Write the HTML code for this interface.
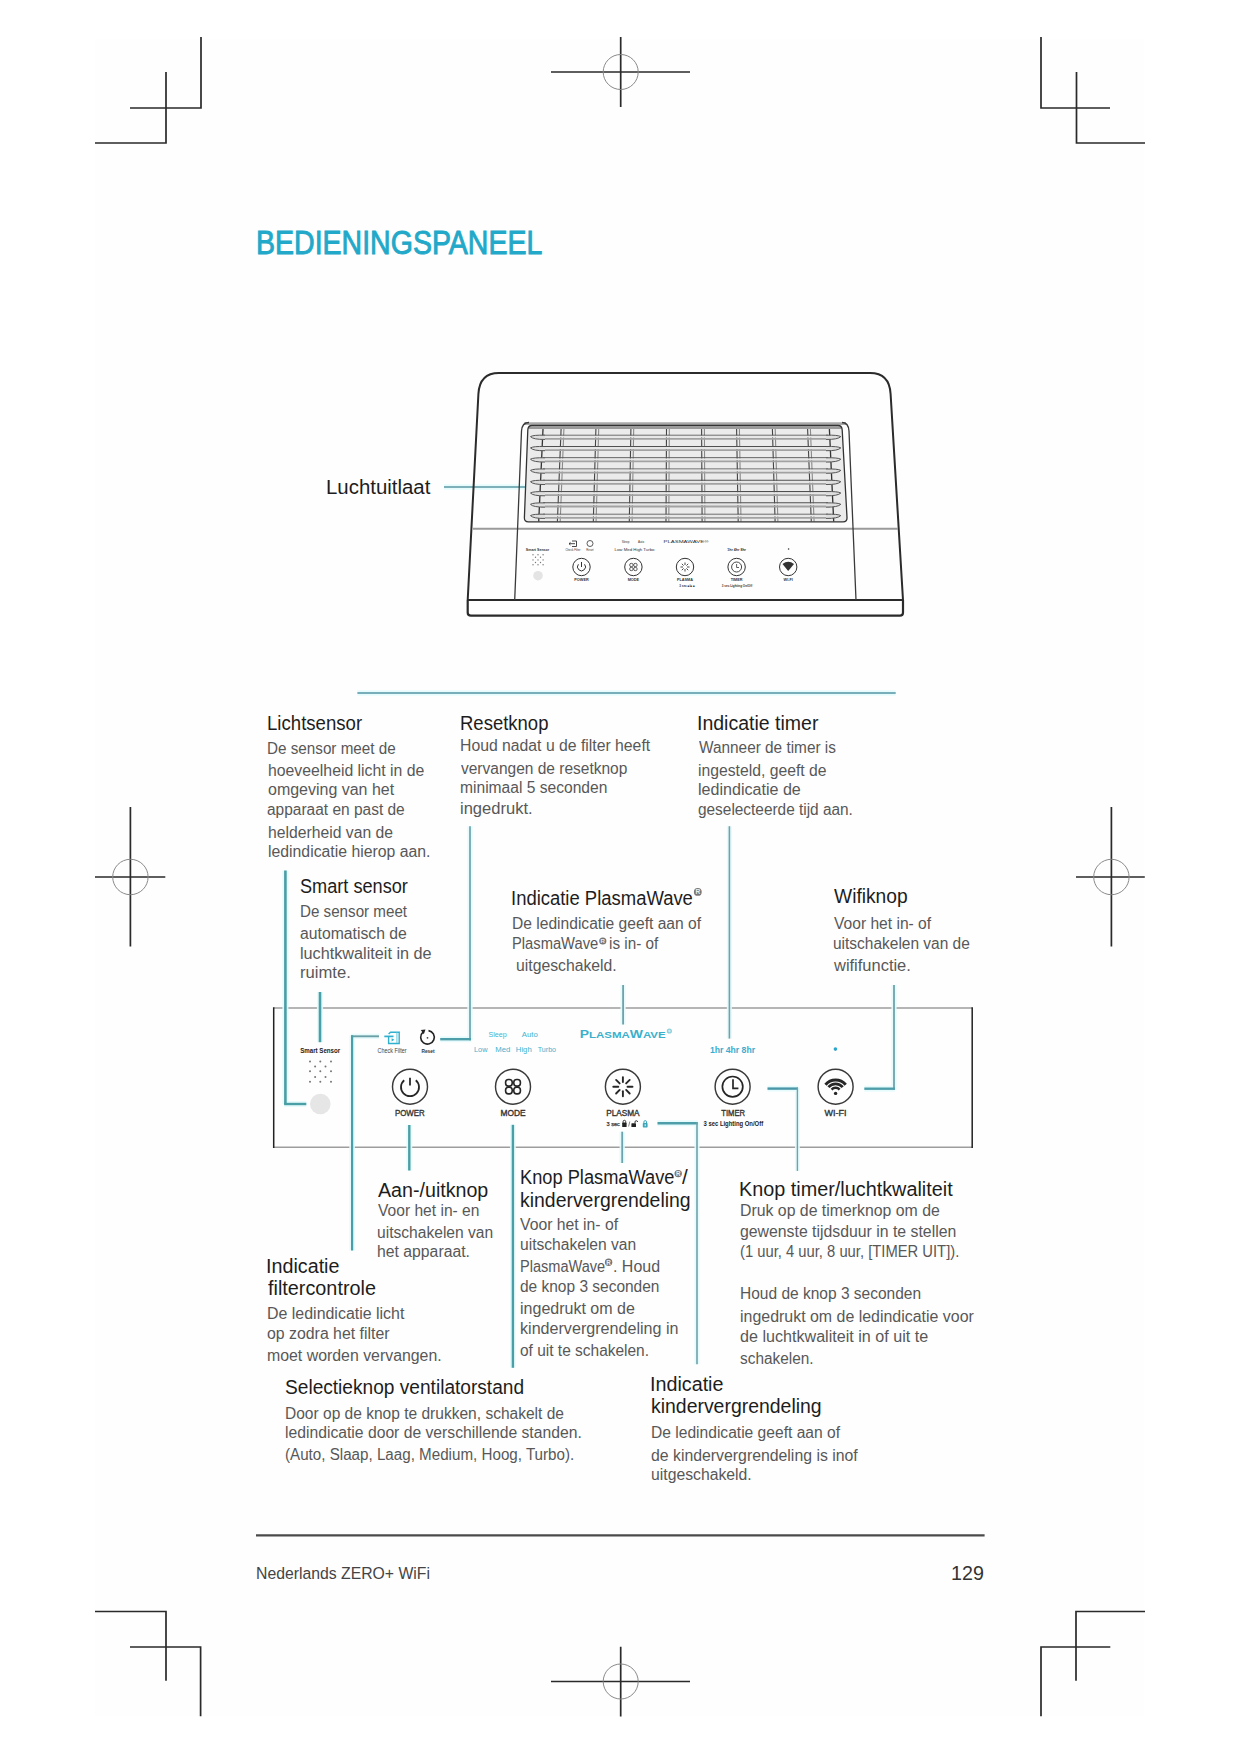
<!DOCTYPE html>
<html><head><meta charset="utf-8"><style>
html,body{margin:0;padding:0;}
body{width:1241px;height:1754px;position:relative;overflow:hidden;background:#fff;font-family:"Liberation Sans",sans-serif;}
.pg{position:absolute;left:95px;top:39px;width:1049px;height:1677px;background:#fefefe;}
.t{position:absolute;white-space:nowrap;transform-origin:0 0;}
svg{position:absolute;left:0;top:0;}
</style></head><body>
<div class="pg"></div>
<svg width="1241" height="1754" viewBox="0 0 1241 1754">
<path stroke="#2a2a2a" stroke-width="1.7" fill="none" stroke-linecap="butt" d="M201,37V108H130M166,72V143H95"/>
<path stroke="#2a2a2a" stroke-width="1.7" fill="none" stroke-linecap="butt" d="M551,72H690M620.7,37V107"/><circle stroke="#8a8a8a" stroke-width="1" fill="none" cx="620.7" cy="72" r="17.5"/>
<path stroke="#2a2a2a" stroke-width="1.7" fill="none" stroke-linecap="butt" d="M1041,37V108H1110M1076.5,72V143H1145"/>
<path stroke="#2a2a2a" stroke-width="1.7" fill="none" stroke-linecap="butt" d="M130.4,807V946.5M95,877H165.3"/><circle stroke="#8a8a8a" stroke-width="1" fill="none" cx="130.4" cy="877" r="17.7"/>
<path stroke="#2a2a2a" stroke-width="1.7" fill="none" stroke-linecap="butt" d="M1111.4,807V946.5M1076,877H1144.8"/><circle stroke="#8a8a8a" stroke-width="1" fill="none" cx="1111.4" cy="877" r="17.7"/>
<path stroke="#2a2a2a" stroke-width="1.7" fill="none" stroke-linecap="butt" d="M95,1611.5H166V1680.7M130,1647H200.6V1716.3"/>
<path stroke="#2a2a2a" stroke-width="1.7" fill="none" stroke-linecap="butt" d="M1145,1611.5H1076V1680.7M1110.3,1647H1041V1716.3"/>
<path stroke="#2a2a2a" stroke-width="1.7" fill="none" stroke-linecap="butt" d="M551,1681.5H690M620.7,1646.7V1716.6"/><circle stroke="#8a8a8a" stroke-width="1" fill="none" cx="620.7" cy="1681.5" r="17.5"/>
<path d="M444,487 H529.5" fill="none" stroke="#e4fbfc" stroke-width="5.4" opacity="0.9"/><path d="M444,487 H529.5" fill="none" stroke="#7db0b8" stroke-width="1.9"/>
<path d="M467.7,600 L478.4,394 Q479.5,373 499,373 L870,373 Q889.5,373 890.6,394 L903,600" fill="none" stroke="#2b2b2b" stroke-width="2"/>
<path d="M467.7,600 L467.7,612.5 Q467.7,615.7 471,615.7 L900,615.7 Q903,615.7 903,612.5 L903,600" fill="#fff" stroke="#2b2b2b" stroke-width="2.2"/>
<path d="M467.7,600H903" stroke="#2b2b2b" stroke-width="2.2"/>
<path d="M473,528.8H898" stroke="#9a9a9a" stroke-width="2"/>
<path d="M524,423.6H846" stroke="#a8a8a8" stroke-width="2.6"/>
<path d="M514.7,600 L521.5,431 Q522,422.6 529,422.5 M842,422.5 Q848.5,422.6 849,431 L856,600" fill="none" stroke="#3a3a3a" stroke-width="1.3"/>
<path d="M532,425.5 L838,425.5 Q842,425.5 842.2,430 L847,517.5 Q847.3,521.8 843,521.8 L528.5,521.8 Q524.2,521.8 524.4,517.5 L527.8,430 Q528,425.5 532,425.5Z" fill="#ebebeb" stroke="none"/>
<path d="M529,427.8H841" stroke="#9a9a9a" stroke-width="2.4"/>
<path d="M543.0,429 L538.7,521.5" stroke="#333" stroke-width="1.3"/>
<path d="M561.1,429 L557.4,521.5" stroke="#444" stroke-width="1.1"/>
<path d="M563.9,429 L560.2,521.5" stroke="#8a8a8a" stroke-width="1.1"/>
<path d="M595.9,429 L593.3,521.5" stroke="#444" stroke-width="1.1"/>
<path d="M598.7,429 L596.1,521.5" stroke="#8a8a8a" stroke-width="1.1"/>
<path d="M630.9,429 L629.3,521.5" stroke="#444" stroke-width="1.1"/>
<path d="M633.7,429 L632.1,521.5" stroke="#8a8a8a" stroke-width="1.1"/>
<path d="M666.5,429 L666.0,521.5" stroke="#444" stroke-width="1.1"/>
<path d="M669.3,429 L668.8,521.5" stroke="#8a8a8a" stroke-width="1.1"/>
<path d="M701.6,429 L702.1,521.5" stroke="#444" stroke-width="1.1"/>
<path d="M704.4,429 L704.9,521.5" stroke="#8a8a8a" stroke-width="1.1"/>
<path d="M736.6,429 L738.2,521.5" stroke="#444" stroke-width="1.1"/>
<path d="M739.4,429 L741.0,521.5" stroke="#8a8a8a" stroke-width="1.1"/>
<path d="M772.4,429 L775.1,521.5" stroke="#444" stroke-width="1.1"/>
<path d="M775.2,429 L777.9,521.5" stroke="#8a8a8a" stroke-width="1.1"/>
<path d="M807.6,429 L811.3,521.5" stroke="#444" stroke-width="1.1"/>
<path d="M810.4,429 L814.1,521.5" stroke="#8a8a8a" stroke-width="1.1"/>
<path d="M829.4,429 L833.7,521.5" stroke="#333" stroke-width="1.3"/>
<path d="M543,435.2 L828,435.2" stroke="#505050" stroke-width="1.1"/>
<path d="M543,436.7 L828,436.7" stroke="#e6e6e6" stroke-width="1.8"/>
<path d="M541,438.8 L830,438.8" stroke="#a2a2a2" stroke-width="1.8"/>
<path d="M545,435.2 Q533,434.9 530.5,436.6 Q533,439.6 545,439.4" fill="#dedede" stroke="#555" stroke-width="1"/>
<path d="M826,435.2 Q838,434.9 840.8,436.6 Q838,439.6 826,439.4" fill="#dedede" stroke="#555" stroke-width="1"/>
<path d="M543,446.5 L828,446.5" stroke="#505050" stroke-width="1.1"/>
<path d="M543,448.0 L828,448.0" stroke="#e6e6e6" stroke-width="1.8"/>
<path d="M541,450.1 L830,450.1" stroke="#a2a2a2" stroke-width="1.8"/>
<path d="M545,446.5 Q533,446.2 530.5,447.9 Q533,450.9 545,450.7" fill="#dedede" stroke="#555" stroke-width="1"/>
<path d="M826,446.5 Q838,446.2 840.8,447.9 Q838,450.9 826,450.7" fill="#dedede" stroke="#555" stroke-width="1"/>
<path d="M543,457.8 L828,457.8" stroke="#505050" stroke-width="1.1"/>
<path d="M543,459.3 L828,459.3" stroke="#e6e6e6" stroke-width="1.8"/>
<path d="M541,461.4 L830,461.4" stroke="#a2a2a2" stroke-width="1.8"/>
<path d="M545,457.8 Q533,457.5 530.5,459.2 Q533,462.2 545,462.0" fill="#dedede" stroke="#555" stroke-width="1"/>
<path d="M826,457.8 Q838,457.5 840.8,459.2 Q838,462.2 826,462.0" fill="#dedede" stroke="#555" stroke-width="1"/>
<path d="M543,469.0 L828,469.0" stroke="#505050" stroke-width="1.1"/>
<path d="M543,470.5 L828,470.5" stroke="#e6e6e6" stroke-width="1.8"/>
<path d="M541,472.6 L830,472.6" stroke="#a2a2a2" stroke-width="1.8"/>
<path d="M545,469.0 Q533,468.7 530.5,470.4 Q533,473.4 545,473.2" fill="#dedede" stroke="#555" stroke-width="1"/>
<path d="M826,469.0 Q838,468.7 840.8,470.4 Q838,473.4 826,473.2" fill="#dedede" stroke="#555" stroke-width="1"/>
<path d="M543,480.3 L828,480.3" stroke="#505050" stroke-width="1.1"/>
<path d="M543,481.8 L828,481.8" stroke="#e6e6e6" stroke-width="1.8"/>
<path d="M541,483.9 L830,483.9" stroke="#a2a2a2" stroke-width="1.8"/>
<path d="M545,480.3 Q533,480.0 530.5,481.7 Q533,484.7 545,484.5" fill="#dedede" stroke="#555" stroke-width="1"/>
<path d="M826,480.3 Q838,480.0 840.8,481.7 Q838,484.7 826,484.5" fill="#dedede" stroke="#555" stroke-width="1"/>
<path d="M543,491.6 L828,491.6" stroke="#505050" stroke-width="1.1"/>
<path d="M543,493.1 L828,493.1" stroke="#e6e6e6" stroke-width="1.8"/>
<path d="M541,495.2 L830,495.2" stroke="#a2a2a2" stroke-width="1.8"/>
<path d="M545,491.6 Q533,491.3 530.5,493.0 Q533,496.0 545,495.8" fill="#dedede" stroke="#555" stroke-width="1"/>
<path d="M826,491.6 Q838,491.3 840.8,493.0 Q838,496.0 826,495.8" fill="#dedede" stroke="#555" stroke-width="1"/>
<path d="M543,502.9 L828,502.9" stroke="#505050" stroke-width="1.1"/>
<path d="M543,504.4 L828,504.4" stroke="#e6e6e6" stroke-width="1.8"/>
<path d="M541,506.5 L830,506.5" stroke="#a2a2a2" stroke-width="1.8"/>
<path d="M545,502.9 Q533,502.6 530.5,504.3 Q533,507.3 545,507.1" fill="#dedede" stroke="#555" stroke-width="1"/>
<path d="M826,502.9 Q838,502.6 840.8,504.3 Q838,507.3 826,507.1" fill="#dedede" stroke="#555" stroke-width="1"/>
<path d="M543,514.2 L828,514.2" stroke="#505050" stroke-width="1.1"/>
<path d="M543,515.7 L828,515.7" stroke="#e6e6e6" stroke-width="1.8"/>
<path d="M541,517.8 L830,517.8" stroke="#a2a2a2" stroke-width="1.8"/>
<path d="M545,514.2 Q533,513.9 530.5,515.6 Q533,518.6 545,518.4" fill="#dedede" stroke="#555" stroke-width="1"/>
<path d="M826,514.2 Q838,513.9 840.8,515.6 Q838,518.6 826,518.4" fill="#dedede" stroke="#555" stroke-width="1"/>
<path d="M532,425.5 L838,425.5 Q842,425.5 842.2,430 L847,517.5 Q847.3,521.8 843,521.8 L528.5,521.8 Q524.2,521.8 524.4,517.5 L527.8,430 Q528,425.5 532,425.5Z" fill="none" stroke="#333" stroke-width="1.3"/>
<text x="537.5" y="551" font-size="3.6" font-weight="700" text-anchor="middle" fill="#333" font-family="Liberation Sans">Smart Sensor</text>
<circle cx="533" cy="554.8" r="0.7" fill="#777"/>
<circle cx="538" cy="554.8" r="0.7" fill="#777"/>
<circle cx="543.1" cy="554.8" r="0.7" fill="#777"/>
<circle cx="535.5" cy="557.3" r="0.7" fill="#777"/>
<circle cx="540.5" cy="557.3" r="0.7" fill="#777"/>
<circle cx="533" cy="559.9" r="0.7" fill="#777"/>
<circle cx="538" cy="559.9" r="0.7" fill="#777"/>
<circle cx="543.1" cy="559.9" r="0.7" fill="#777"/>
<circle cx="535.5" cy="562.5" r="0.7" fill="#777"/>
<circle cx="540.5" cy="562.5" r="0.7" fill="#777"/>
<circle cx="533" cy="564.7" r="0.7" fill="#777"/>
<circle cx="538" cy="564.7" r="0.7" fill="#777"/>
<circle cx="543.1" cy="564.7" r="0.7" fill="#777"/>
<circle cx="538" cy="575.7" r="4.8" fill="#e4e4e4"/>
<path d="M572,541 h4.5 v5.5 h-4.5 M575,543.7 h-6 l1.5,-1.3 M569,543.7 l1.5,1.3" fill="none" stroke="#333" stroke-width="0.9"/>
<circle cx="590" cy="543.5" r="3" fill="none" stroke="#333" stroke-width="0.8"/>
<text x="573" y="551" font-size="2.8" text-anchor="middle" fill="#333" font-family="Liberation Sans">Check Filter</text>
<text x="590" y="551" font-size="2.8" text-anchor="middle" fill="#333" font-family="Liberation Sans">Reset</text>
<text x="625.5" y="543" font-size="3" text-anchor="middle" fill="#333" font-family="Liberation Sans">Sleep</text>
<text x="641" y="543" font-size="3" text-anchor="middle" fill="#333" font-family="Liberation Sans">Auto</text>
<text x="634.5" y="550.6" font-size="3" text-anchor="middle" fill="#333" font-family="Liberation Sans" textLength="40" lengthAdjust="spacingAndGlyphs">Low  Med  High  Turbo</text>
<text x="663.5" y="543" font-size="3.6" fill="#333" font-family="Liberation Sans" textLength="45" lengthAdjust="spacingAndGlyphs">PLASMAWAVE®</text>
<text x="736.6" y="550.5" font-size="3.6" font-weight="700" text-anchor="middle" fill="#333" font-family="Liberation Sans">1hr 4hr 8hr</text>
<circle cx="788.6" cy="549" r="0.8" fill="#333"/>
<circle cx="581.5" cy="567" r="8.7" fill="none" stroke="#333" stroke-width="1"/>
<text x="581.5" y="581" font-size="3.8" font-weight="700" text-anchor="middle" fill="#333" font-family="Liberation Sans">POWER</text>
<circle cx="633.4" cy="567" r="8.7" fill="none" stroke="#333" stroke-width="1"/>
<text x="633.4" y="581" font-size="3.8" font-weight="700" text-anchor="middle" fill="#333" font-family="Liberation Sans">MODE</text>
<circle cx="685" cy="567" r="8.7" fill="none" stroke="#333" stroke-width="1"/>
<text x="685" y="581" font-size="3.8" font-weight="700" text-anchor="middle" fill="#333" font-family="Liberation Sans">PLASMA</text>
<circle cx="736.6" cy="567" r="8.7" fill="none" stroke="#333" stroke-width="1"/>
<text x="736.6" y="581" font-size="3.8" font-weight="700" text-anchor="middle" fill="#333" font-family="Liberation Sans">TIMER</text>
<circle cx="788.2" cy="567" r="8.7" fill="none" stroke="#333" stroke-width="1"/>
<text x="788.2" y="581" font-size="3.8" font-weight="700" text-anchor="middle" fill="#333" font-family="Liberation Sans">WI-FI</text>
<text x="687" y="587" font-size="3" font-weight="700" text-anchor="middle" fill="#333" font-family="Liberation Sans">3 sec ■/■ ■</text>
<text x="737" y="587" font-size="3" font-weight="700" text-anchor="middle" fill="#333" font-family="Liberation Sans">3 sec Lighting On/Off</text>
<path d="M578.4,564.3 A4,4 0 1 0 584.6,564.3 M581.5,562 V567" fill="none" stroke="#333" stroke-width="1"/>
<rect x="629.6999999999999" y="563.4" width="3.4" height="3.2" rx="1.4" fill="none" stroke="#333" stroke-width="0.8"/>
<rect x="629.6999999999999" y="567.4" width="3.4" height="3.2" rx="1.4" fill="none" stroke="#333" stroke-width="0.8"/>
<rect x="633.6999999999999" y="563.4" width="3.4" height="3.2" rx="1.4" fill="none" stroke="#333" stroke-width="0.8"/>
<rect x="633.6999999999999" y="567.4" width="3.4" height="3.2" rx="1.4" fill="none" stroke="#333" stroke-width="0.8"/>
<path d="M685.00,565.00L685.00,562.50" stroke="#333" stroke-width="0.9"/>
<path d="M683.59,565.59L681.82,563.82" stroke="#333" stroke-width="0.9"/>
<path d="M683.00,567.00L680.50,567.00" stroke="#333" stroke-width="0.9"/>
<path d="M683.59,568.41L681.82,570.18" stroke="#333" stroke-width="0.9"/>
<path d="M685.00,569.00L685.00,571.50" stroke="#333" stroke-width="0.9"/>
<path d="M686.41,568.41L688.18,570.18" stroke="#333" stroke-width="0.9"/>
<path d="M687.00,567.00L689.50,567.00" stroke="#333" stroke-width="0.9"/>
<path d="M686.41,565.59L688.18,563.82" stroke="#333" stroke-width="0.9"/>
<circle cx="736.6" cy="567" r="5" fill="none" stroke="#333" stroke-width="0.9"/><path d="M736.6,564 V567.5 H739" fill="none" stroke="#333" stroke-width="0.8"/>
<path d="M782.5,564 Q788.2,559.5 794,564 L788.2,571 Z" fill="#333"/>
<path d="M273.7,1008 H972.2 M273.7,1147.2 H972.2" stroke="#9d9d9d" stroke-width="1.6"/>
<path d="M273.7,1007.2 V1148 M972.2,1007.2 V1148" stroke="#222" stroke-width="1.5"/>
<text x="320.2" y="1052.5" font-size="7.2" font-weight="700" text-anchor="middle" fill="#222" font-family="Liberation Sans" textLength="40" lengthAdjust="spacingAndGlyphs">Smart Sensor</text>
<circle cx="310" cy="1061.4" r="1" fill="#777"/>
<circle cx="320.3" cy="1061.4" r="1" fill="#777"/>
<circle cx="331" cy="1061.4" r="1" fill="#777"/>
<circle cx="315.1" cy="1066.6" r="1" fill="#777"/>
<circle cx="325.5" cy="1066.6" r="1" fill="#777"/>
<circle cx="310" cy="1071.3" r="1" fill="#777"/>
<circle cx="320.3" cy="1071.3" r="1" fill="#777"/>
<circle cx="331" cy="1071.3" r="1" fill="#777"/>
<circle cx="315.1" cy="1076.9" r="1" fill="#777"/>
<circle cx="325.5" cy="1076.9" r="1" fill="#777"/>
<circle cx="310" cy="1081.8" r="1" fill="#777"/>
<circle cx="320.3" cy="1081.8" r="1" fill="#777"/>
<circle cx="331" cy="1081.8" r="1" fill="#777"/>
<circle cx="320.3" cy="1104" r="10.3" fill="#e6e6e6"/>
<path d="M388.6,1036.6 V1043.5 H399.2 V1032.2 H390.6 L388.6,1034" fill="none" stroke="#2fb0cf" stroke-width="1.4"/>
<path d="M384.3,1036.4 H393.5" stroke="#2fb0cf" stroke-width="1.7"/>
<path d="M396.9,1032.6 V1043" stroke="#7fcfe0" stroke-width="1.2"/>
<path d="M391.6,1038.2 l2.8,1.6 l-2.8,1.6z" fill="#2fb0cf"/>
<text x="392" y="1053.2" font-size="6.6" text-anchor="middle" fill="#444" font-family="Liberation Sans" textLength="29" lengthAdjust="spacingAndGlyphs">Check Filter</text>
<path d="M423,1032.2 A6.8,6.8 0 1 0 428.5,1030.6" fill="none" stroke="#222" stroke-width="1.6"/><path d="M420.8,1030 L425.5,1029.6 L423.8,1034.2Z" fill="#222"/><circle cx="427.5" cy="1037.8" r="0.9" fill="#444"/>
<text x="428" y="1053.2" font-size="6.2" font-weight="700" text-anchor="middle" fill="#333" font-family="Liberation Sans" textLength="13" lengthAdjust="spacingAndGlyphs">Reset</text>
<text x="488.4" y="1037.1" font-size="8" font-weight="400" fill="#44b2cf" font-family="Liberation Sans" textLength="18.2" lengthAdjust="spacingAndGlyphs">Sleep</text>
<text x="521.8" y="1037.1" font-size="8" font-weight="400" fill="#44b2cf" font-family="Liberation Sans" textLength="16.0" lengthAdjust="spacingAndGlyphs">Auto</text>
<text x="474" y="1052.4" font-size="8" font-weight="400" fill="#44b2cf" font-family="Liberation Sans" textLength="13.5" lengthAdjust="spacingAndGlyphs">Low</text>
<text x="495.3" y="1052.4" font-size="8" font-weight="400" fill="#44b2cf" font-family="Liberation Sans" textLength="15.1" lengthAdjust="spacingAndGlyphs">Med</text>
<text x="515.8" y="1052.4" font-size="8" font-weight="400" fill="#44b2cf" font-family="Liberation Sans" textLength="15.9" lengthAdjust="spacingAndGlyphs">High</text>
<text x="537.8" y="1052.4" font-size="8" font-weight="400" fill="#44b2cf" font-family="Liberation Sans" textLength="18.2" lengthAdjust="spacingAndGlyphs">Turbo</text>
<text x="710" y="1052.6" font-size="8.5" font-weight="700" fill="#3aaed0" font-family="Liberation Sans" textLength="45.0" lengthAdjust="spacingAndGlyphs">1hr 4hr 8hr</text>
<circle cx="835.4" cy="1049.1" r="1.8" fill="#2aa6cc"/>
<text x="579.7" y="1037.6" font-family="Liberation Sans" font-weight="700" fill="#3ab0cc" textLength="86" lengthAdjust="spacingAndGlyphs"><tspan font-size="10.9">P</tspan><tspan font-size="9">LASMA</tspan><tspan font-size="10.9">W</tspan><tspan font-size="9">AVE</tspan></text>
<circle cx="669.4" cy="1031" r="2.6" fill="#8fd0dc"/><circle cx="669.4" cy="1031" r="1.2" fill="#c8eef4"/>
<circle cx="410" cy="1086.7" r="17.5" fill="none" stroke="#3a3a3a" stroke-width="1.45"/>
<circle cx="513" cy="1086.7" r="17.5" fill="none" stroke="#3a3a3a" stroke-width="1.45"/>
<circle cx="622.9" cy="1086.7" r="17.5" fill="none" stroke="#3a3a3a" stroke-width="1.45"/>
<circle cx="732.6" cy="1086.7" r="17.5" fill="none" stroke="#3a3a3a" stroke-width="1.45"/>
<circle cx="835.6" cy="1086.7" r="17.5" fill="none" stroke="#3a3a3a" stroke-width="1.45"/>
<path d="M404.2,1080.3 A9,9 0 1 0 415.8,1080.3" fill="none" stroke="#262626" stroke-width="1.8"/><path d="M410,1077.8 V1085.6" stroke="#262626" stroke-width="1.8"/>
<rect x="505.6" y="1079.5" width="6.6" height="6.6" rx="2.8" fill="none" stroke="#262626" stroke-width="1.6"/>
<rect x="505.6" y="1087.3" width="6.6" height="6.6" rx="2.8" fill="none" stroke="#262626" stroke-width="1.6"/>
<rect x="513.8" y="1079.5" width="6.6" height="6.6" rx="2.8" fill="none" stroke="#262626" stroke-width="1.6"/>
<rect x="513.8" y="1087.3" width="6.6" height="6.6" rx="2.8" fill="none" stroke="#262626" stroke-width="1.6"/>
<path d="M622.90,1082.10L622.90,1077.10" stroke="#262626" stroke-width="1.9" stroke-linecap="round"/>
<path d="M619.65,1083.45L616.11,1079.91" stroke="#262626" stroke-width="1.9" stroke-linecap="round"/>
<path d="M618.30,1086.70L613.30,1086.70" stroke="#262626" stroke-width="1.9" stroke-linecap="round"/>
<path d="M619.65,1089.95L616.11,1093.49" stroke="#262626" stroke-width="1.9" stroke-linecap="round"/>
<path d="M622.90,1091.30L622.90,1096.30" stroke="#262626" stroke-width="1.9" stroke-linecap="round"/>
<path d="M626.15,1089.95L629.69,1093.49" stroke="#262626" stroke-width="1.9" stroke-linecap="round"/>
<path d="M627.50,1086.70L632.50,1086.70" stroke="#262626" stroke-width="1.9" stroke-linecap="round"/>
<path d="M626.15,1083.45L629.69,1079.91" stroke="#262626" stroke-width="1.9" stroke-linecap="round"/>
<circle cx="732.6" cy="1086.7" r="10.2" fill="none" stroke="#262626" stroke-width="1.7"/><path d="M733,1079.3 V1088.4 H738.4" fill="none" stroke="#262626" stroke-width="1.7"/>
<path d="M825.49,1084.72 A13.2,13.2 0 0 1 845.71,1084.72" fill="none" stroke="#262626" stroke-width="3.0"/>
<path d="M828.48,1087.22 A9.3,9.3 0 0 1 842.72,1087.22" fill="none" stroke="#262626" stroke-width="2.8"/>
<path d="M831.59,1089.59 A5.4,5.4 0 0 1 839.61,1089.59" fill="none" stroke="#262626" stroke-width="2.5"/>
<circle cx="835.6" cy="1093.4" r="1.7" fill="#262626"/>
<text x="395" y="1116.0" font-size="8.6" font-weight="400" fill="#333" stroke="#333" stroke-width="0.35" font-family="Liberation Sans" textLength="29.7" lengthAdjust="spacingAndGlyphs">POWER</text>
<text x="500.5" y="1116.0" font-size="8.6" font-weight="400" fill="#333" stroke="#333" stroke-width="0.35" font-family="Liberation Sans" textLength="25.1" lengthAdjust="spacingAndGlyphs">MODE</text>
<text x="606.2" y="1116.0" font-size="8.6" font-weight="400" fill="#333" stroke="#333" stroke-width="0.35" font-family="Liberation Sans" textLength="33.4" lengthAdjust="spacingAndGlyphs">PLASMA</text>
<text x="721.3" y="1116.0" font-size="8.6" font-weight="400" fill="#333" stroke="#333" stroke-width="0.35" font-family="Liberation Sans" textLength="23.7" lengthAdjust="spacingAndGlyphs">TIMER</text>
<text x="824.5" y="1115.9" font-size="8.6" font-weight="400" fill="#333" stroke="#333" stroke-width="0.35" font-family="Liberation Sans" textLength="22.0" lengthAdjust="spacingAndGlyphs">WI-FI</text>
<text x="606.5" y="1125.7" font-size="6.2" font-weight="400" fill="#333" stroke="#333" stroke-width="0.25" font-family="Liberation Sans" textLength="13.3" lengthAdjust="spacingAndGlyphs">3 sec</text>
<rect x="622.2" y="1122.6" width="4.4" height="4.4" rx="0.6" fill="#222"/><path d="M623.1,1122.8 v-1.2 a1.3,1.3 0 0 1 2.6,0 v1.2" fill="none" stroke="#222" stroke-width="0.9"/>
<path d="M629.8,1121.5 L628.6,1126.5" stroke="#555" stroke-width="0.7"/>
<rect x="631.4" y="1123.2" width="4.6" height="3.8" rx="0.6" fill="#222"/><path d="M635,1123.3 v-1.3 a1.3,1.3 0 0 1 2.6,0" fill="none" stroke="#222" stroke-width="0.9"/>
<rect x="642.8" y="1123" width="4.8" height="4.4" rx="0.7" fill="#3aa6b8"/><path d="M643.9,1123.2 v-1.3 a1.3,1.3 0 0 1 2.6,0 v1.3" fill="none" stroke="#3aa6b8" stroke-width="1"/><rect x="644.6" y="1124.2" width="1.2" height="2" fill="#c8eef4"/>
<text x="703.5" y="1126.4" font-size="6.4" font-weight="700" fill="#222" stroke="#222" stroke-width="0" font-family="Liberation Sans" textLength="59.6" lengthAdjust="spacingAndGlyphs">3 sec Lighting On/Off</text>
<path d="M357.4,693.1 H895.7" fill="none" stroke="#e4fbfc" stroke-width="5.5" opacity="0.9"/>
<path d="M285.4,870.5 V1104" fill="none" stroke="#e4fbfc" stroke-width="6.1" opacity="0.9"/>
<path d="M284.1,1104 H306.3" fill="none" stroke="#e4fbfc" stroke-width="5.9" opacity="0.9"/>
<path d="M470,826.2 V1040.2" fill="none" stroke="#e4fbfc" stroke-width="5.5" opacity="0.9"/>
<path d="M471,1039.2 H440.2" fill="none" stroke="#e4fbfc" stroke-width="5.9" opacity="0.9"/>
<path d="M729.4,826.2 V1038.6" fill="none" stroke="#e4fbfc" stroke-width="5.1" opacity="0.9"/>
<path d="M320,992 V1042.2" fill="none" stroke="#e4fbfc" stroke-width="6.1" opacity="0.9"/>
<path d="M623.1,984.9 V1024.6" fill="none" stroke="#e4fbfc" stroke-width="5.3" opacity="0.9"/>
<path d="M894,984.9 V1089.8" fill="none" stroke="#e4fbfc" stroke-width="5.3" opacity="0.9"/>
<path d="M894.9,1088.7 H864.3" fill="none" stroke="#e4fbfc" stroke-width="5.9" opacity="0.9"/>
<path d="M379,1036.3 H351" fill="none" stroke="#e4fbfc" stroke-width="5.4" opacity="0.9"/>
<path d="M352.1,1035.3 V1250.5" fill="none" stroke="#e4fbfc" stroke-width="5.7" opacity="0.9"/>
<path d="M409.3,1125 V1170.5" fill="none" stroke="#e4fbfc" stroke-width="5.9" opacity="0.9"/>
<path d="M512.9,1124.8 V1367.8" fill="none" stroke="#e4fbfc" stroke-width="5.9" opacity="0.9"/>
<path d="M622.2,1131.7 V1163" fill="none" stroke="#e4fbfc" stroke-width="5.3" opacity="0.9"/>
<path d="M657.5,1123.3 H697.8" fill="none" stroke="#e4fbfc" stroke-width="5.9" opacity="0.9"/>
<path d="M697,1122.3 V1364.2" fill="none" stroke="#e4fbfc" stroke-width="5.1" opacity="0.9"/>
<path d="M767.5,1088.6 H798" fill="none" stroke="#e4fbfc" stroke-width="5.9" opacity="0.9"/>
<path d="M797.4,1087.6 V1170.9" fill="none" stroke="#e4fbfc" stroke-width="4.9" opacity="0.9"/>
<path d="M357.4,693.1 H895.7" fill="none" stroke="#78aeb9" stroke-width="2.0"/>
<path d="M285.4,870.5 V1104" fill="none" stroke="#4a9ea5" stroke-width="2.6"/>
<path d="M284.1,1104 H306.3" fill="none" stroke="#4a9ea5" stroke-width="2.4"/>
<path d="M470,826.2 V1040.2" fill="none" stroke="#7db0b8" stroke-width="2.0"/>
<path d="M471,1039.2 H440.2" fill="none" stroke="#4e9eaa" stroke-width="2.4"/>
<path d="M729.4,826.2 V1038.6" fill="none" stroke="#6fa3ab" stroke-width="1.6"/>
<path d="M320,992 V1042.2" fill="none" stroke="#4a9ea5" stroke-width="2.6"/>
<path d="M623.1,984.9 V1024.6" fill="none" stroke="#6fa3ab" stroke-width="1.8"/>
<path d="M894,984.9 V1089.8" fill="none" stroke="#6fa3ab" stroke-width="1.8"/>
<path d="M894.9,1088.7 H864.3" fill="none" stroke="#4e9eaa" stroke-width="2.4"/>
<path d="M379,1036.3 H351" fill="none" stroke="#6a9fa6" stroke-width="1.9"/>
<path d="M352.1,1035.3 V1250.5" fill="none" stroke="#4a9ea5" stroke-width="2.2"/>
<path d="M409.3,1125 V1170.5" fill="none" stroke="#4a9ea5" stroke-width="2.4"/>
<path d="M512.9,1124.8 V1367.8" fill="none" stroke="#4a9ea5" stroke-width="2.4"/>
<path d="M622.2,1131.7 V1163" fill="none" stroke="#6fa3ab" stroke-width="1.8"/>
<path d="M657.5,1123.3 H697.8" fill="none" stroke="#4e9eaa" stroke-width="2.4"/>
<path d="M697,1122.3 V1364.2" fill="none" stroke="#6fa3ab" stroke-width="1.6"/>
<path d="M767.5,1088.6 H798" fill="none" stroke="#4b97a8" stroke-width="2.4"/>
<path d="M797.4,1087.6 V1170.9" fill="none" stroke="#6fa3ab" stroke-width="1.4"/>
<path d="M256,1535.4 H984.6" stroke="#4a4a4a" stroke-width="2.4"/>
<circle cx="697.8" cy="891.9" r="3.9" fill="#777"/><text x="697.8" y="894.3" font-size="6.6" font-weight="700" text-anchor="middle" fill="#eee" font-family="Liberation Sans">R</text>
<circle cx="602.8" cy="941.0" r="3.6" fill="#777"/><text x="602.8" y="943.2" font-size="6.1" font-weight="700" text-anchor="middle" fill="#eee" font-family="Liberation Sans">R</text>
<circle cx="678.2" cy="1173.6" r="3.7" fill="#777"/><text x="678.2" y="1175.9" font-size="6.3" font-weight="700" text-anchor="middle" fill="#eee" font-family="Liberation Sans">R</text>
<circle cx="608.6" cy="1262.2" r="3.7" fill="#777"/><text x="608.6" y="1264.5" font-size="6.3" font-weight="700" text-anchor="middle" fill="#eee" font-family="Liberation Sans">R</text>
</svg>
<div class="t" id="t0" style="left:255.91px;top:225.64px;font-size:33.8px;line-height:33.8px;color:#22a8c8;transform:scaleX(0.8439);-webkit-text-stroke:0.9px #22a8c8">BEDIENINGSPANEEL</div>
<div class="t" id="t1" style="left:325.96px;top:477.30px;font-size:20px;line-height:20px;color:#1d1d1d;transform:scaleX(1.0201)">Luchtuitlaat</div>
<div class="t" id="t2" style="left:267.14px;top:713.10px;font-size:20.0px;line-height:20.0px;color:#1d1d1d;transform:scaleX(0.9302)">Lichtsensor</div>
<div class="t" id="t3" style="left:267.02px;top:740.72px;font-size:15.6px;line-height:15.6px;color:#585858;transform:scaleX(0.9770)">De sensor meet de</div>
<div class="t" id="t4" style="left:267.99px;top:763.02px;font-size:15.6px;line-height:15.6px;color:#585858;transform:scaleX(1.0131)">hoeveelheid licht in de</div>
<div class="t" id="t5" style="left:267.98px;top:782.02px;font-size:15.6px;line-height:15.6px;color:#585858;transform:scaleX(1.0246)">omgeving van het</div>
<div class="t" id="t6" style="left:267.01px;top:802.02px;font-size:15.6px;line-height:15.6px;color:#585858;transform:scaleX(0.9928)">apparaat en past de</div>
<div class="t" id="t7" style="left:267.99px;top:824.52px;font-size:15.6px;line-height:15.6px;color:#585858;transform:scaleX(1.0083)">helderheid van de</div>
<div class="t" id="t8" style="left:267.99px;top:843.72px;font-size:15.6px;line-height:15.6px;color:#585858;transform:scaleX(1.0127)">ledindicatie hierop aan.</div>
<div class="t" id="t9" style="left:460.15px;top:712.60px;font-size:20.0px;line-height:20.0px;color:#1d1d1d;transform:scaleX(0.9250)">Resetknop</div>
<div class="t" id="t10" style="left:459.99px;top:737.82px;font-size:15.6px;line-height:15.6px;color:#585858;transform:scaleX(1.0107)">Houd nadat u de filter heeft</div>
<div class="t" id="t11" style="left:461.00px;top:760.72px;font-size:15.6px;line-height:15.6px;color:#585858;transform:scaleX(0.9940)">vervangen de resetknop</div>
<div class="t" id="t12" style="left:460.00px;top:780.12px;font-size:15.6px;line-height:15.6px;color:#585858;transform:scaleX(1.0000)">minimaal 5 seconden</div>
<div class="t" id="t13" style="left:459.94px;top:800.92px;font-size:15.6px;line-height:15.6px;color:#585858;transform:scaleX(1.0608)">ingedrukt.</div>
<div class="t" id="t14" style="left:697.05px;top:712.80px;font-size:20.0px;line-height:20.0px;color:#1d1d1d;transform:scaleX(0.9755)">Indicatie timer</div>
<div class="t" id="t15" style="left:699.00px;top:740.42px;font-size:15.6px;line-height:15.6px;color:#585858;transform:scaleX(0.9856)">Wanneer de timer is</div>
<div class="t" id="t16" style="left:697.99px;top:762.82px;font-size:15.6px;line-height:15.6px;color:#585858;transform:scaleX(1.0080)">ingesteld, geeft de</div>
<div class="t" id="t17" style="left:697.97px;top:782.22px;font-size:15.6px;line-height:15.6px;color:#585858;transform:scaleX(1.0307)">ledindicatie de</div>
<div class="t" id="t18" style="left:698.01px;top:801.62px;font-size:15.6px;line-height:15.6px;color:#585858;transform:scaleX(0.9871)">geselecteerde tijd aan.</div>
<div class="t" id="t19" style="left:300.09px;top:875.80px;font-size:20.0px;line-height:20.0px;color:#1d1d1d;transform:scaleX(0.9069)">Smart sensor</div>
<div class="t" id="t20" style="left:300.03px;top:903.72px;font-size:15.6px;line-height:15.6px;color:#585858;transform:scaleX(0.9725)">De sensor meet</div>
<div class="t" id="t21" style="left:299.99px;top:925.92px;font-size:15.6px;line-height:15.6px;color:#585858;transform:scaleX(1.0097)">automatisch de</div>
<div class="t" id="t22" style="left:299.96px;top:946.02px;font-size:15.6px;line-height:15.6px;color:#585858;transform:scaleX(1.0400)">luchtkwaliteit in de</div>
<div class="t" id="t23" style="left:299.93px;top:965.02px;font-size:15.6px;line-height:15.6px;color:#585858;transform:scaleX(1.0667)">ruimte.</div>
<div class="t" id="t24" style="left:511.15px;top:887.70px;font-size:20.0px;line-height:20.0px;color:#1d1d1d;transform:scaleX(0.9227)">Indicatie PlasmaWave</div>
<div class="t" id="t25" style="left:512.00px;top:915.92px;font-size:15.6px;line-height:15.6px;color:#585858;transform:scaleX(1.0000)">De ledindicatie geeft aan of</div>
<div class="t" id="t26" style="left:512.06px;top:935.72px;font-size:15.6px;line-height:15.6px;color:#585858;transform:scaleX(0.9444)">PlasmaWave</div>
<div class="t" id="t27" style="left:609.02px;top:935.72px;font-size:15.6px;line-height:15.6px;color:#585858;transform:scaleX(0.9805)">is in- of</div>
<div class="t" id="t28" style="left:515.99px;top:957.92px;font-size:15.6px;line-height:15.6px;color:#585858;transform:scaleX(1.0104)">uitgeschakeld.</div>
<div class="t" id="t29" style="left:834.00px;top:885.70px;font-size:20.0px;line-height:20.0px;color:#1d1d1d;transform:scaleX(0.9607)">Wifiknop</div>
<div class="t" id="t30" style="left:834.00px;top:915.52px;font-size:15.6px;line-height:15.6px;color:#585858;transform:scaleX(1.0001)">Voor het in- of</div>
<div class="t" id="t31" style="left:833.01px;top:935.82px;font-size:15.6px;line-height:15.6px;color:#585858;transform:scaleX(0.9927)">uitschakelen van de</div>
<div class="t" id="t32" style="left:834.00px;top:957.62px;font-size:15.6px;line-height:15.6px;color:#585858;transform:scaleX(1.0556)">wififunctie.</div>
<div class="t" id="t33" style="left:378.00px;top:1179.80px;font-size:20.0px;line-height:20.0px;color:#1d1d1d;transform:scaleX(0.9822)">Aan-/uitknop</div>
<div class="t" id="t34" style="left:378.00px;top:1202.92px;font-size:15.6px;line-height:15.6px;color:#585858;transform:scaleX(1.0001)">Voor het in- en</div>
<div class="t" id="t35" style="left:377.00px;top:1224.82px;font-size:15.6px;line-height:15.6px;color:#585858;transform:scaleX(1.0001)">uitschakelen van</div>
<div class="t" id="t36" style="left:376.99px;top:1244.22px;font-size:15.6px;line-height:15.6px;color:#585858;transform:scaleX(1.0112)">het apparaat.</div>
<div class="t" id="t37" style="left:266.03px;top:1255.60px;font-size:20.0px;line-height:20.0px;color:#1d1d1d;transform:scaleX(0.9863)">Indicatie</div>
<div class="t" id="t38" style="left:268.00px;top:1278.20px;font-size:20.0px;line-height:20.0px;color:#1d1d1d;transform:scaleX(0.9908)">filtercontrole</div>
<div class="t" id="t39" style="left:266.98px;top:1306.42px;font-size:15.6px;line-height:15.6px;color:#585858;transform:scaleX(1.0226)">De ledindicatie licht</div>
<div class="t" id="t40" style="left:266.98px;top:1325.82px;font-size:15.6px;line-height:15.6px;color:#585858;transform:scaleX(1.0169)">op zodra het filter</div>
<div class="t" id="t41" style="left:266.98px;top:1348.32px;font-size:15.6px;line-height:15.6px;color:#585858;transform:scaleX(1.0178)">moet worden vervangen.</div>
<div class="t" id="t42" style="left:520.18px;top:1166.80px;font-size:20.0px;line-height:20.0px;color:#1d1d1d;transform:scaleX(0.9121)">Knop PlasmaWave</div>
<div class="t" id="t43" style="left:682.00px;top:1166.80px;font-size:20.0px;line-height:20.0px;color:#1d1d1d;transform:scaleX(1.0355)">/</div>
<div class="t" id="t44" style="left:520.03px;top:1189.50px;font-size:20.0px;line-height:20.0px;color:#1d1d1d;transform:scaleX(0.9713)">kindervergrendeling</div>
<div class="t" id="t45" style="left:520.00px;top:1217.12px;font-size:15.6px;line-height:15.6px;color:#585858;transform:scaleX(1.0104)">Voor het in- of</div>
<div class="t" id="t46" style="left:520.00px;top:1237.22px;font-size:15.6px;line-height:15.6px;color:#585858;transform:scaleX(1.0001)">uitschakelen van</div>
<div class="t" id="t47" style="left:520.07px;top:1258.82px;font-size:15.6px;line-height:15.6px;color:#585858;transform:scaleX(0.9335)">PlasmaWave</div>
<div class="t" id="t48" style="left:612.98px;top:1258.82px;font-size:15.6px;line-height:15.6px;color:#585858;transform:scaleX(1.0233)">. Houd</div>
<div class="t" id="t49" style="left:520.01px;top:1279.22px;font-size:15.6px;line-height:15.6px;color:#585858;transform:scaleX(0.9928)">de knop 3 seconden</div>
<div class="t" id="t50" style="left:519.97px;top:1300.52px;font-size:15.6px;line-height:15.6px;color:#585858;transform:scaleX(1.0273)">ingedrukt om de</div>
<div class="t" id="t51" style="left:519.97px;top:1320.52px;font-size:15.6px;line-height:15.6px;color:#585858;transform:scaleX(1.0329)">kindervergrendeling in</div>
<div class="t" id="t52" style="left:520.01px;top:1343.02px;font-size:15.6px;line-height:15.6px;color:#585858;transform:scaleX(0.9923)">of uit te schakelen.</div>
<div class="t" id="t53" style="left:739.02px;top:1179.00px;font-size:20.0px;line-height:20.0px;color:#1d1d1d;transform:scaleX(0.9907)">Knop timer/luchtkwaliteit</div>
<div class="t" id="t54" style="left:739.98px;top:1203.42px;font-size:15.6px;line-height:15.6px;color:#585858;transform:scaleX(1.0154)">Druk op de timerknop om de</div>
<div class="t" id="t55" style="left:739.99px;top:1224.02px;font-size:15.6px;line-height:15.6px;color:#585858;transform:scaleX(1.0142)">gewenste tijdsduur in te stellen</div>
<div class="t" id="t56" style="left:740.05px;top:1244.32px;font-size:15.6px;line-height:15.6px;color:#585858;transform:scaleX(0.9476)">(1 uur, 4 uur, 8 uur, [TIMER UIT]).</div>
<div class="t" id="t57" style="left:740.01px;top:1286.12px;font-size:15.6px;line-height:15.6px;color:#585858;transform:scaleX(0.9945)">Houd de knop 3 seconden</div>
<div class="t" id="t58" style="left:739.98px;top:1308.92px;font-size:15.6px;line-height:15.6px;color:#585858;transform:scaleX(1.0219)">ingedrukt om de ledindicatie voor</div>
<div class="t" id="t59" style="left:739.97px;top:1328.52px;font-size:15.6px;line-height:15.6px;color:#585858;transform:scaleX(1.0334)">de luchtkwaliteit in of uit te</div>
<div class="t" id="t60" style="left:740.01px;top:1351.32px;font-size:15.6px;line-height:15.6px;color:#585858;transform:scaleX(0.9863)">schakelen.</div>
<div class="t" id="t61" style="left:285.04px;top:1377.00px;font-size:20.0px;line-height:20.0px;color:#1d1d1d;transform:scaleX(0.9557)">Selectieknop ventilatorstand</div>
<div class="t" id="t62" style="left:285.00px;top:1406.02px;font-size:15.6px;line-height:15.6px;color:#585858;transform:scaleX(0.9964)">Door op de knop te drukken, schakelt de</div>
<div class="t" id="t63" style="left:284.99px;top:1425.42px;font-size:15.6px;line-height:15.6px;color:#585858;transform:scaleX(1.0068)">ledindicatie door de verschillende standen.</div>
<div class="t" id="t64" style="left:285.03px;top:1447.22px;font-size:15.6px;line-height:15.6px;color:#585858;transform:scaleX(0.9729)">(Auto, Slaap, Laag, Medium, Hoog, Turbo).</div>
<div class="t" id="t65" style="left:650.03px;top:1374.20px;font-size:20.0px;line-height:20.0px;color:#1d1d1d;transform:scaleX(0.9863)">Indicatie</div>
<div class="t" id="t66" style="left:651.03px;top:1396.40px;font-size:20.0px;line-height:20.0px;color:#1d1d1d;transform:scaleX(0.9713)">kindervergrendeling</div>
<div class="t" id="t67" style="left:651.00px;top:1425.32px;font-size:15.6px;line-height:15.6px;color:#585858;transform:scaleX(1.0000)">De ledindicatie geeft aan of</div>
<div class="t" id="t68" style="left:650.99px;top:1447.52px;font-size:15.6px;line-height:15.6px;color:#585858;transform:scaleX(1.0148)">de kindervergrendeling is inof</div>
<div class="t" id="t69" style="left:650.99px;top:1466.92px;font-size:15.6px;line-height:15.6px;color:#585858;transform:scaleX(1.0104)">uitgeschakeld.</div>
<div class="t" id="t70" style="left:256.06px;top:1565.50px;font-size:16.8px;line-height:16.8px;color:#444;transform:scaleX(0.9399)">Nederlands ZERO+ WiFi</div>
<div class="t" id="t71" style="left:951.12px;top:1562.26px;font-size:21px;line-height:21px;color:#333;transform:scaleX(0.9385)">129</div>
</body></html>
